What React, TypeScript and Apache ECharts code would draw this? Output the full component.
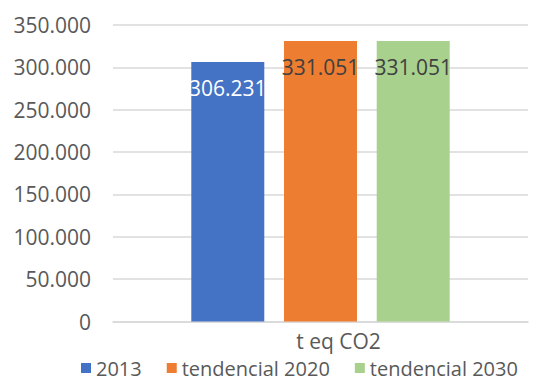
import React, { useEffect, useRef } from "react";
import * as echarts from "echarts";

const categories = ["t eq CO2"];
const seriesNames = ["2013", "tendencial 2020", "tendencial 2030"];
const values2013 = [306231];
const values2020 = [331051];
const values2030 = [331051];
const colors = ["#4472C4", "#ED7D31", "#A9D18E"];
const labelColors = ["#ffffff", "#404040", "#404040"];

const fmt = (v: number) => {
  const s = Math.round(v).toString();
  return s.replace(/\B(?=(\d{3})+(?!\d))/g, ".");
};

export default function App() {
  const ref = useRef<HTMLDivElement>(null);
  useEffect(() => {
    if (!ref.current) return;
    const chart = echarts.init(ref.current, null, { renderer: "svg" });
    const font = "'Open Sans', sans-serif";
    const data = [values2013, values2020, values2030];
    chart.setOption({
      animation: false,
      grid: { left: 113, right: 21, top: 25, bottom: 60.5, containLabel: false },
      legend: {
        top: 358,
        left: 81,
        padding: 0,
        itemWidth: 10,
        itemHeight: 10,
        itemGap: 25,
        icon: "rect",
        textStyle: { color: "#595959", fontSize: 20, fontFamily: font },
        data: seriesNames,
      },
      xAxis: {
        type: "category",
        data: categories,
        axisLine: { lineStyle: { color: "#d9d9d9", width: 1.5 } },
        axisTick: { show: false },
        axisLabel: {
          color: "#595959",
          fontSize: 21,
          fontFamily: font,
          margin: 9,
          padding: [0, 0, 0, 36],
        },
      },
      yAxis: {
        type: "value",
        min: 0,
        max: 350000,
        interval: 50000,
        axisLine: { show: false },
        axisTick: { show: false },
        splitLine: { lineStyle: { color: "#d9d9d9", width: 1.5 } },
        axisLabel: {
          color: "#595959",
          fontSize: 21,
          fontFamily: font,
          margin: 22,
          formatter: (v: number) => fmt(v),
        },
      },
      series: seriesNames.map((name, i) => ({
        name,
        type: "bar",
        data: data[i],
        barWidth: 73,
        barGap: "27%",
        itemStyle: { color: colors[i] },
        label: {
          show: true,
          position: "insideTop",
          distance: 15,
          color: labelColors[i],
          fontSize: 21,
          fontFamily: font,
          formatter: (p: any) => fmt(p.value),
        },
      })),
    });
    return () => chart.dispose();
  }, []);
  return <div ref={ref} style={{ width: 549, height: 382, position: "absolute", left: 0, top: 0 }} />;
}
